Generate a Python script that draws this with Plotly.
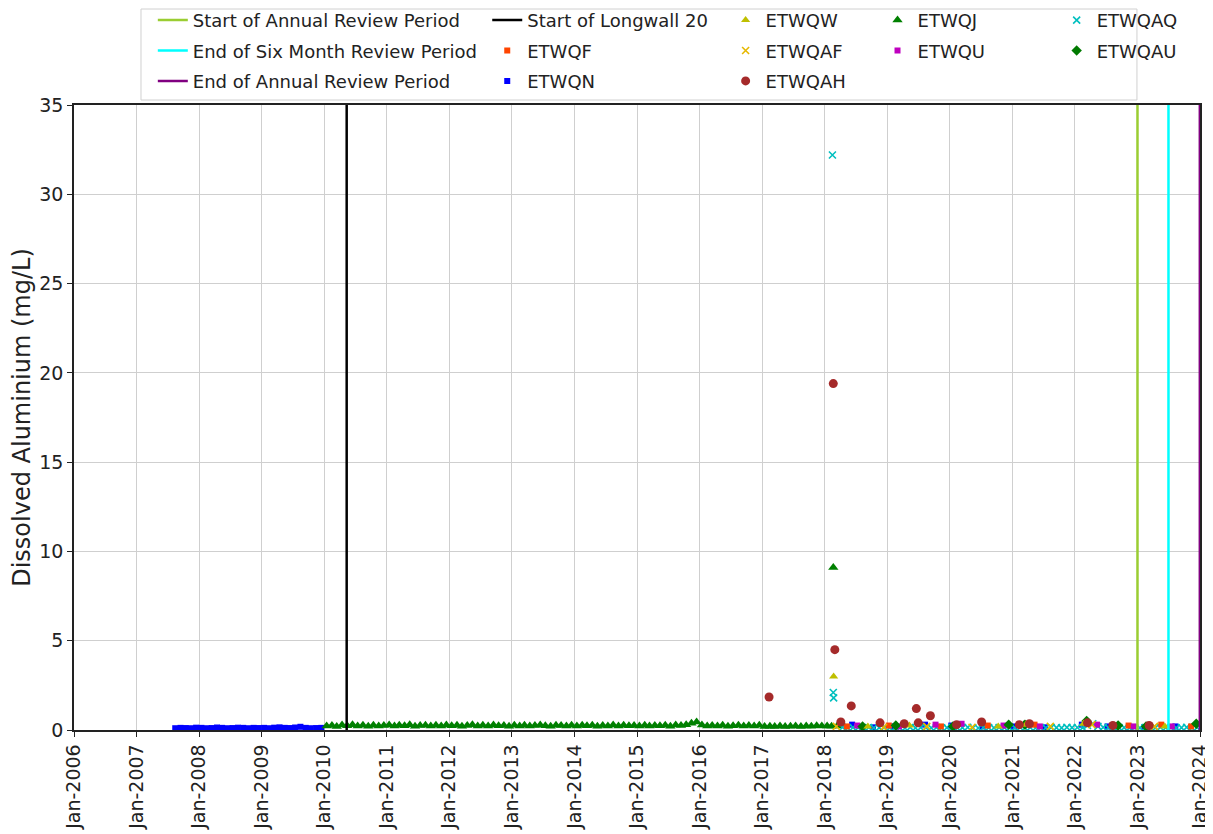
import plotly.graph_objects as go

# review period / mining event markers
start_annual = "2023-01-01"
end_six_month = "2023-07-01"
end_annual = "2023-12-31"
longwall_20 = "2010-05-12"

ETWQN_dates = [
    "2007-08-15", "2007-09-15", "2007-10-15", "2007-11-15", "2007-12-15",
    "2008-01-15", "2008-02-15", "2008-03-15", "2008-04-15", "2008-05-15", "2008-06-15",
    "2008-07-15", "2008-08-15", "2008-09-15", "2008-10-15", "2008-11-15", "2008-12-15",
    "2009-01-15", "2009-02-15", "2009-03-15", "2009-04-15", "2009-05-15", "2009-06-15",
    "2009-07-15", "2009-08-15", "2009-09-15", "2009-10-15", "2009-11-15", "2009-12-15",
    "2018-06-10", "2018-10-10", "2019-02-10", "2019-08-10", "2020-01-10", "2020-07-10",
    "2021-01-10", "2021-07-10", "2022-02-10", "2022-07-10", "2023-02-10", "2023-08-10",
]
ETWQN_values = [
    0.10, 0.12, 0.11, 0.10, 0.13,
    0.12, 0.10, 0.11, 0.14, 0.12, 0.10,
    0.11, 0.13, 0.12, 0.10, 0.12, 0.11,
    0.12, 0.10, 0.13, 0.15, 0.12, 0.11,
    0.14, 0.18, 0.12, 0.10, 0.11, 0.12,
    0.30, 0.15, 0.20, 0.30, 0.25, 0.20,
    0.20, 0.15, 0.30, 0.20, 0.15, 0.20,
]

ETWQJ_dates = [
    "2010-01-15", "2010-02-15", "2010-03-15", "2010-04-15", "2010-05-15", "2010-06-15",
    "2010-07-15", "2010-08-15", "2010-09-15", "2010-10-15", "2010-11-15", "2010-12-15",
    "2011-01-15", "2011-02-15", "2011-03-15", "2011-04-15", "2011-05-15", "2011-06-15",
    "2011-07-15", "2011-08-15", "2011-09-15", "2011-10-15", "2011-11-15", "2011-12-15",
    "2012-01-15", "2012-02-15", "2012-03-15", "2012-04-15", "2012-05-15", "2012-06-15",
    "2012-07-15", "2012-08-15", "2012-09-15", "2012-10-15", "2012-11-15", "2012-12-15",
    "2013-01-15", "2013-02-15", "2013-03-15", "2013-04-15", "2013-05-15", "2013-06-15",
    "2013-07-15", "2013-08-15", "2013-09-15", "2013-10-15", "2013-11-15", "2013-12-15",
    "2014-01-15", "2014-02-15", "2014-03-15", "2014-04-15", "2014-05-15", "2014-06-15",
    "2014-07-15", "2014-08-15", "2014-09-15", "2014-10-15", "2014-11-15", "2014-12-15",
    "2015-01-15", "2015-02-15", "2015-03-15", "2015-04-15", "2015-05-15", "2015-06-15",
    "2015-07-15", "2015-08-15", "2015-09-15", "2015-10-15", "2015-11-15", "2015-12-15",
    "2016-01-15", "2016-02-15", "2016-03-15", "2016-04-15", "2016-05-15", "2016-06-15",
    "2016-07-15", "2016-08-15", "2016-09-15", "2016-10-15", "2016-11-15", "2016-12-15",
    "2017-01-15", "2017-02-15", "2017-03-15", "2017-04-15", "2017-05-15", "2017-06-15",
    "2017-07-15", "2017-08-15", "2017-09-15", "2017-10-15", "2017-11-15", "2017-12-15",
    "2018-01-15", "2018-02-10", "2018-03-15",
    "2018-02-20", "2021-03-10", "2022-03-20",
]
ETWQJ_values = [
    0.22, 0.25, 0.20, 0.28, 0.24, 0.30, 0.22, 0.26, 0.21, 0.27, 0.23, 0.25,
    0.28, 0.22, 0.26, 0.24, 0.30, 0.21, 0.25, 0.27, 0.23, 0.26, 0.22, 0.28,
    0.24, 0.27, 0.21, 0.25, 0.29, 0.23, 0.26, 0.22, 0.28, 0.24, 0.25, 0.21,
    0.26, 0.23, 0.27, 0.22, 0.25, 0.28, 0.24, 0.21, 0.26, 0.25, 0.23, 0.27,
    0.22, 0.26, 0.24, 0.27, 0.21, 0.25, 0.23, 0.28, 0.22, 0.26, 0.24, 0.25,
    0.23, 0.27, 0.22, 0.25, 0.24, 0.26, 0.21, 0.28, 0.25, 0.30, 0.38, 0.45,
    0.28, 0.22, 0.25, 0.23, 0.26, 0.21, 0.24, 0.27, 0.22, 0.25, 0.23, 0.26,
    0.20, 0.21, 0.19, 0.22, 0.20, 0.21, 0.23, 0.20, 0.22, 0.21, 0.24, 0.22,
    0.23, 0.21, 0.22,
    9.1, 0.30, 0.45,
]

ETWQAQ_dates = [
    "2018-02-15", "2018-02-20", "2018-02-22",
    "2018-04-15", "2018-05-15", "2018-06-15", "2018-07-15", "2018-08-15", "2018-09-15",
    "2018-10-15", "2018-11-15", "2018-12-15",
    "2019-01-15", "2019-02-15", "2019-03-15", "2019-04-15", "2019-05-15", "2019-06-15",
    "2019-07-15", "2019-08-15", "2019-09-15", "2019-10-15", "2019-11-15", "2019-12-15",
    "2020-01-15", "2020-02-15", "2020-03-15", "2020-04-15", "2020-05-15", "2020-06-15",
    "2020-07-15", "2020-08-15", "2020-09-15", "2020-10-15", "2020-11-15", "2020-12-15",
    "2021-01-15", "2021-02-15", "2021-03-15", "2021-04-15", "2021-05-15", "2021-06-15",
    "2021-07-15", "2021-08-15", "2021-09-15", "2021-10-15", "2021-11-15", "2021-12-15",
    "2022-01-15", "2022-02-15", "2022-03-15", "2022-04-15", "2022-05-15", "2022-06-15",
    "2022-07-15", "2022-08-15", "2022-09-15", "2022-10-15", "2022-11-15", "2022-12-15",
    "2023-01-15", "2023-02-15", "2023-03-15", "2023-04-15", "2023-05-15", "2023-06-15",
    "2023-07-15", "2023-08-15", "2023-09-15", "2023-10-15", "2023-11-15", "2023-12-15",
]
ETWQAQ_values = [
    32.2, 2.1, 1.8,
    0.15, 0.12, 0.14, 0.13, 0.11, 0.14, 0.12, 0.13, 0.15,
    0.12, 0.14, 0.13, 0.11, 0.15, 0.12, 0.14, 0.13, 0.12, 0.14, 0.11, 0.13,
    0.14, 0.12, 0.13, 0.15, 0.12, 0.11, 0.14, 0.13, 0.12, 0.14, 0.13, 0.12,
    0.13, 0.15, 0.12, 0.14, 0.11, 0.13, 0.12, 0.14, 0.13, 0.12, 0.15, 0.13,
    0.14, 0.13, 0.25, 0.35, 0.20, 0.15, 0.13, 0.12, 0.14, 0.13, 0.12, 0.14,
    0.12, 0.14, 0.13, 0.12, 0.15, 0.13, 0.14, 0.12, 0.13, 0.15, 0.12, 0.14,
]

ETWQAH_dates = [
    "2017-02-10", "2018-02-20", "2018-03-01", "2018-04-05", "2018-06-05",
    "2018-11-20", "2019-04-10", "2019-06-20", "2019-07-01", "2019-09-10",
    "2020-02-10", "2020-07-05", "2021-02-10", "2021-04-10", "2022-03-15",
    "2022-08-10", "2023-03-10",
]
ETWQAH_values = [
    1.85, 19.4, 4.5, 0.45, 1.35,
    0.40, 0.35, 1.2, 0.40, 0.80,
    0.30, 0.45, 0.30, 0.35, 0.40,
    0.25, 0.25,
]

ETWQW_dates = ["2018-02-22", "2018-09-10", "2019-05-10", "2020-10-10",
               "2021-03-20", "2022-02-20", "2023-06-10"]
ETWQW_values = [3.0, 0.20, 0.25, 0.20, 0.30, 0.35, 0.20]

ETWQAF_dates = ["2018-03-10", "2018-12-10", "2019-08-20", "2020-05-10",
                "2021-08-10", "2022-04-10", "2023-04-10"]
ETWQAF_values = [0.20, 0.15, 0.20, 0.15, 0.20, 0.30, 0.20]

ETWQF_dates = ["2018-05-10", "2019-01-10", "2019-11-10", "2020-08-10", "2021-05-10",
               "2022-03-05", "2022-11-10", "2023-05-20", "2023-11-10"]
ETWQF_values = [0.20, 0.25, 0.20, 0.25, 0.30, 0.40, 0.25, 0.30, 0.20]

ETWQU_dates = ["2018-07-10", "2019-03-10", "2019-10-10", "2020-03-10", "2020-11-10",
               "2021-06-10", "2022-05-10", "2022-12-10", "2023-07-20"]
ETWQU_values = [0.25, 0.20, 0.30, 0.35, 0.25, 0.20, 0.30, 0.20, 0.20]

ETWQAU_dates = ["2018-08-10", "2019-02-20", "2020-01-20", "2020-12-10", "2021-03-15",
                "2022-03-10", "2022-09-10", "2023-02-20", "2023-12-10"]
ETWQAU_values = [0.20, 0.25, 0.20, 0.30, 0.30, 0.50, 0.25, 0.20, 0.35]

legend_font = dict(family="DejaVu Sans", size=18, color="#222")

fig = go.Figure()


def vline(date, name, color, leg, rank):
    fig.add_trace(go.Scatter(x=[date, date], y=[0, 35], mode="lines", name=name,
                             line=dict(color=color, width=2.5), legend=leg,
                             legendgroup=name, legendrank=rank))


def points(dates, values, name, symbol, color, size, leg, rank):
    # open "x" symbols need a stroke to show up
    stroke = dict(width=1.6, color=color) if symbol.startswith("x") else dict(width=0)
    fig.add_trace(go.Scatter(x=dates, y=values, mode="markers", name=name, legend=leg,
                             legendgroup=name, legendrank=rank,
                             marker=dict(symbol=symbol, color=color, size=size,
                                         line=stroke)))


# draw the lowest-lying bands first so spikes sit on top
points(ETWQN_dates, ETWQN_values, "ETWQN", "square", "#0000ff", 6, "legend2", 3)
points(ETWQJ_dates, ETWQJ_values, "ETWQJ", "triangle-up", "#008000", 9, "legend4", 1)
points(ETWQAQ_dates, ETWQAQ_values, "ETWQAQ", "x-thin-open", "#00bfbf", 7, "legend5", 1)
points(ETWQF_dates, ETWQF_values, "ETWQF", "square", "#ff4500", 6, "legend2", 2)
points(ETWQU_dates, ETWQU_values, "ETWQU", "square", "#bf00bf", 6, "legend4", 2)
points(ETWQAU_dates, ETWQAU_values, "ETWQAU", "diamond", "#007a00", 8, "legend5", 2)
points(ETWQAF_dates, ETWQAF_values, "ETWQAF", "x-thin-open", "#e6b800", 7, "legend3", 2)
points(ETWQW_dates, ETWQW_values, "ETWQW", "triangle-up", "#bfbf00", 8, "legend3", 1)
points(ETWQAH_dates, ETWQAH_values, "ETWQAH", "circle", "#a52a2a", 9, "legend3", 3)

vline(start_annual, "Start of Annual Review Period", "#9acd32", "legend", 1)
vline(end_six_month, "End of Six Month Review Period", "#00ffff", "legend", 2)
vline(end_annual, "End of Annual Review Period", "#800080", "legend", 3)
vline(longwall_20, "Start of Longwall 20", "#000000", "legend2", 1)

leg_common = dict(orientation="v", xanchor="left", yanchor="top", y=1.165,
                  bgcolor="rgba(0,0,0,0)", borderwidth=0, font=legend_font,
                  tracegroupgap=4, traceorder="grouped")

# page body adds an 8px offset, so the figure is sized 8px smaller on each side
fig.update_layout(
    width=1205, height=826,
    margin=dict(l=66, r=13, t=97, b=104, autoexpand=False),
    paper_bgcolor="white", plot_bgcolor="white",
    font=dict(family="DejaVu Sans", size=19, color="#222"),
    showlegend=True,
    legend=dict(x=0.070, **leg_common),
    legend2=dict(x=0.367, **leg_common),
    legend3=dict(x=0.5787, **leg_common),
    legend4=dict(x=0.7136, **leg_common),
    legend5=dict(x=0.8727, **leg_common),
    shapes=[dict(type="rect", xref="paper", yref="paper", x0=0.0595, x1=0.944,
                 y0=1.008, y1=1.1536, line=dict(color="#d0d0d0", width=1),
                 fillcolor="rgba(0,0,0,0)", layer="above")],
    xaxis=dict(
        type="date", range=["2006-01-01", "2024-01-01"],
        tick0="2006-01-01", dtick="M12", tickformat="%b-%Y", tickangle=-90,
        tickfont=dict(size=19), ticks="outside", ticklen=5, tickcolor="#222",
        showgrid=True, gridcolor="#cfcfcf", gridwidth=1,
        showline=True, linecolor="#222", linewidth=1.5, mirror=True, zeroline=False,
    ),
    yaxis=dict(
        range=[0, 35], dtick=5, tickfont=dict(size=19),
        ticks="outside", ticklen=5, tickcolor="#222",
        showgrid=True, gridcolor="#cfcfcf", gridwidth=1,
        showline=True, linecolor="#222", linewidth=1.5, mirror=True, zeroline=False,
        title=dict(text="Dissolved Aluminium (mg/L)", font=dict(size=24), standoff=10),
    ),
)

fig.write_html("out.html")
